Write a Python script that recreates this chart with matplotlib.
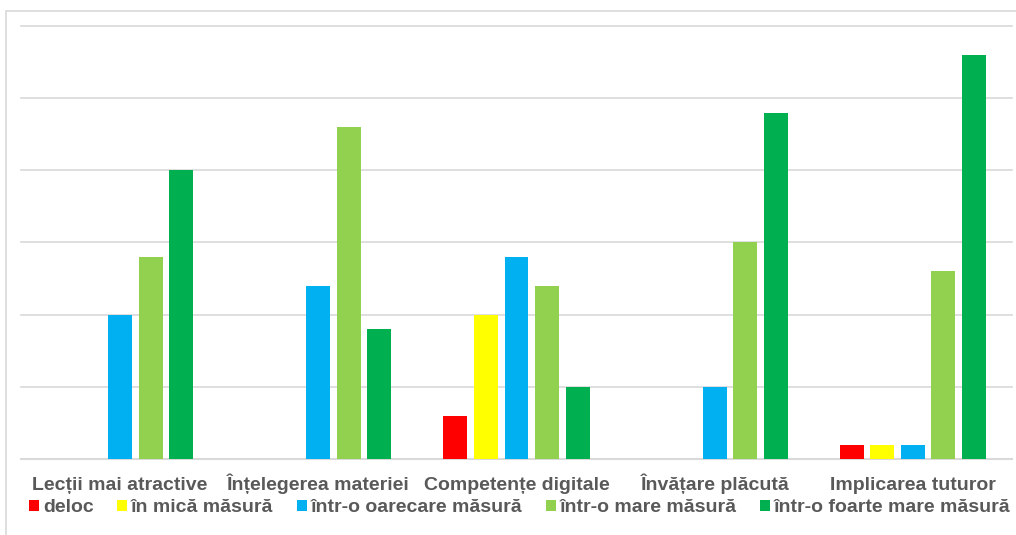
#!/usr/bin/env python3
"""Grouped bar chart: opinions on five aspects, five answer levels."""

import matplotlib.pyplot as plt
import numpy as np
from matplotlib.patches import Rectangle

categories = [
    "Lecții mai atractive",
    "Înțelegerea materiei",
    "Competențe digitale",
    "Învățare plăcută",
    "Implicarea tuturor",
]
levels = [
    "deloc",
    "în mică măsură",
    "într-o oarecare măsură",
    "într-o mare măsură",
    "într-o foarte mare măsură",
]
deloc = [0, 0, 3, 0, 1]
mica = [0, 0, 10, 0, 1]
oarecare = [10, 12, 14, 5, 1]
mare = [14, 23, 12, 15, 13]
foarte_mare = [20, 9, 5, 24, 28]

colors = ["#FF0000", "#FFFF00", "#00B0F0", "#92D050", "#00B050"]
text_color = "#595959"
grid_color = "#D9D9D9"

W, H = 1016, 535
fig = plt.figure(figsize=(W / 100, H / 100), dpi=100)
plt.rcParams["font.family"] = ["Liberation Sans", "DejaVu Sans"]

# light frame around the chart area
fig.patches.append(Rectangle((6 / W, -0.1), 1.2, 1 - 11 / H + 0.1,
                             transform=fig.transFigure, fill=False,
                             edgecolor=grid_color, linewidth=1.2))

ax = fig.add_axes([21 / W, 1 - 459 / H, (1012 - 21) / W, (459 - 26) / H])

series = [deloc, mica, oarecare, mare, foarte_mare]
x = np.arange(len(categories))
pitch = 0.154
width = 0.121
for i, (vals, col, lab) in enumerate(zip(series, colors, levels)):
    ax.bar(x + (i - 2) * pitch, vals, width=width, color=col, label=lab,
           zorder=3)

ax.set_xlim(-0.5, len(categories) - 0.5)
ax.set_ylim(0, 30)
ax.set_yticks(np.arange(0, 31, 5))
ax.yaxis.grid(True, color=grid_color, linewidth=1.2, zorder=0)
for line in ax.get_ygridlines():
    line.set_clip_on(False)
ax.tick_params(axis="y", left=False, labelleft=False)
ax.tick_params(axis="x", length=0, pad=22)
ax.set_xticks(x)
ax.set_xticklabels(categories, fontsize=14, fontweight="bold", color=text_color)
for lbl in ax.get_xticklabels():
    lbl.set_verticalalignment("baseline")
for s in ["top", "right", "left"]:
    ax.spines[s].set_visible(False)
ax.spines["bottom"].set_color(grid_color)
ax.spines["bottom"].set_linewidth(1.5)

leg = fig.legend(loc="center left", bbox_to_anchor=(29 / W, 1 - 508 / H),
                 ncol=5, frameon=False, handlelength=0.52, handleheight=0.52,
                 handletextpad=0.2, columnspacing=1.2,
                 prop={"size": 14, "weight": "bold"}, borderpad=0,
                 borderaxespad=0)
for t in leg.get_texts():
    t.set_color(text_color)

fig.savefig("out.png", dpi=100)
